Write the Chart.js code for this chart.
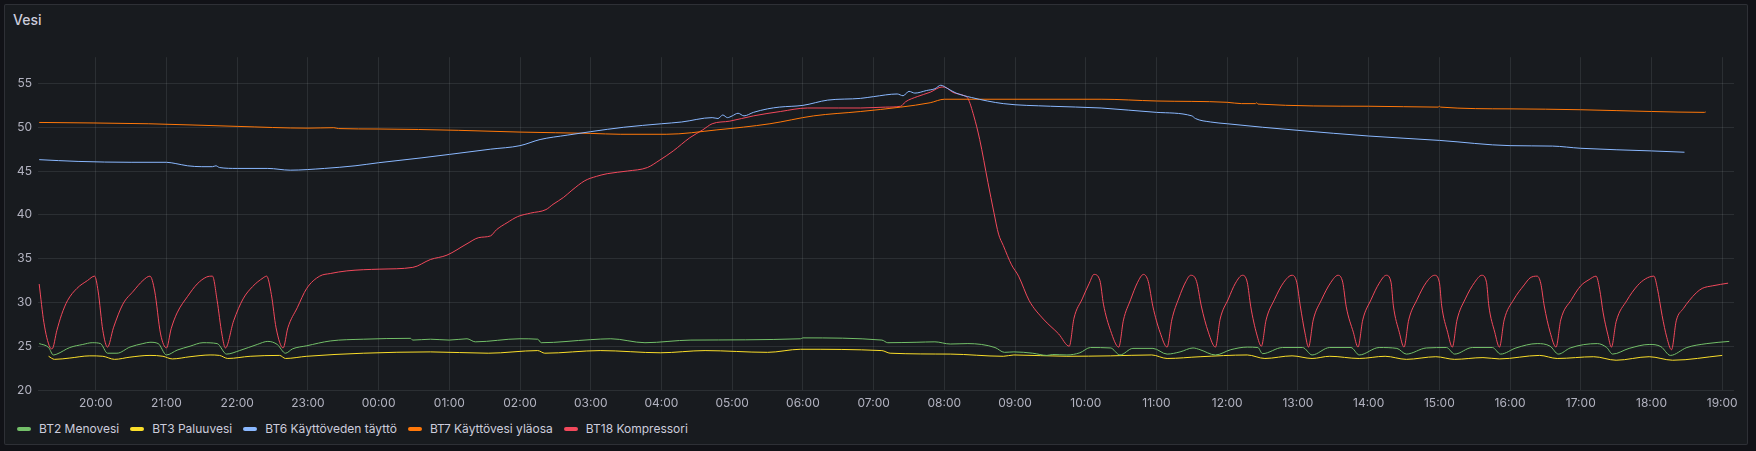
<!DOCTYPE html>
<html>
<head>
<meta charset="utf-8">
<script src="https://cdn.jsdelivr.net/npm/chart.js@4.4.1/dist/chart.umd.min.js"></script>
<style>
  html, body { margin: 0; padding: 0; background: #111217; }
  body { width: 1756px; height: 451px; position: relative; overflow: hidden; font-family: Inter, "Noto Sans", sans-serif; }
  .panel { position: absolute; left: 4px; top: 4px; width: 1744px; height: 441px; background: #181b1f; border: 1px solid rgba(204,204,220,0.12); border-radius: 2px; box-sizing: border-box; }
  .title { position: absolute; left: 13px; top: 11px; color: #ccccdc; font-size: 14px; font-weight: 500; }
  .chart-box { position: absolute; left: 4px; top: 44px; width: 1744px; height: 367px; }
  .legend { position: absolute; left: 17px; top: 421px; display: flex; align-items: center; color: #ccccdc; font-size: 12px; }
  .legend-item { display: flex; align-items: center; margin-right: 11px; }
  .legend-mark { width: 14px; height: 4px; border-radius: 2px; margin-right: 8px; }
</style>
</head>
<body>
<div class="panel"></div>
<div class="title">Vesi</div>
<div class="chart-box"><canvas id="chart"></canvas></div>
<div class="legend" id="legend"></div>
<script>
const seriesNames = ["BT2 Menovesi", "BT3 Paluuvesi", "BT6 Käyttöveden täyttö", "BT7 Käyttövesi yläosa", "BT18 Kompressori"];
const seriesColors = ["#73bf69", "#fade2a", "#8ab8ff", "#ff780a", "#f2495c"];

const xTickLabels = ["20:00", "21:00", "22:00", "23:00", "00:00", "01:00", "02:00", "03:00", "04:00", "05:00", "06:00", "07:00",
  "08:00", "09:00", "10:00", "11:00", "12:00", "13:00", "14:00", "15:00", "16:00", "17:00", "18:00", "19:00"];
const yTickValues = [20, 25, 30, 35, 40, 45, 50, 55];

// BT2 Menovesi
const bt2Times = ["19:12", "19:20", "19:24", "19:27", "19:38", "19:49", "19:57", "20:04", "20:10", "20:18", "20:29", "20:40", "20:46",
  "20:53", "21:00", "21:09", "21:20", "21:31", "21:43", "21:51", "22:02", "22:17", "22:26", "22:34", "22:41", "22:47", "22:59",
  "23:19", "23:47", "00:27", "00:29", "00:44", "01:00", "01:15", "01:22", "02:00", "02:15", "02:18", "03:00", "03:17", "03:46",
  "04:25", "05:58", "06:00", "07:07", "07:12", "07:36", "07:52", "08:05", "08:20", "08:43", "08:51", "08:59", "09:15", "09:27",
  "09:32", "09:44", "09:55", "10:04", "10:21", "10:29", "10:40", "10:57", "11:09", "11:20", "11:31", "11:37", "11:50", "12:03",
  "12:17", "12:26", "12:30", "12:47", "13:04", "13:12", "13:27", "13:45", "13:52", "14:09", "14:24", "14:32", "14:49", "15:06",
  "15:13", "15:28", "15:45", "15:52", "16:05", "16:23", "16:34", "16:41", "16:51", "17:14", "17:22", "17:27", "17:41", "17:58",
  "18:08", "18:16", "18:30", "18:47", "19:06"];
const bt2Values = [25.3, 24.85, 24.0, 24.1, 24.85, 25.2, 25.4, 25.3, 24.2, 24.2, 24.9, 25.3, 25.45,
  25.3, 24.0, 24.55, 25.0, 25.4, 25.3, 24.1, 24.5, 25.2, 25.55, 25.2, 24.2, 24.7, 25.05,
  25.6, 25.8, 25.9, 25.7, 25.8, 25.7, 25.85, 25.5, 25.85, 25.8, 25.4, 25.75, 25.85, 25.4,
  25.7, 25.85, 25.95, 25.7, 25.4, 25.45, 25.5, 25.25, 25.3, 24.85, 24.3, 24.35, 24.2, 23.95,
  24.05, 24.0, 24.25, 24.85, 24.8, 24.0, 24.75, 24.75, 24.1, 24.35, 24.8, 24.6, 24.0, 24.6,
  24.9, 24.85, 24.15, 24.85, 24.85, 24.0, 24.85, 24.85, 24.0, 24.85, 24.75, 24.1, 24.8, 24.85,
  24.1, 24.85, 24.85, 24.1, 24.8, 25.3, 25.0, 24.1, 24.8, 25.3, 24.85, 24.1, 24.75, 25.2,
  24.95, 23.95, 24.85, 25.3, 25.55];

// BT3 Paluuvesi
const bt3Times = ["19:20", "19:25", "19:38", "19:55", "20:06", "20:16", "20:29", "20:46", "20:57", "21:05", "21:20", "21:37", "21:45",
  "21:52", "22:11", "22:36", "22:41", "22:59", "23:47", "00:44", "01:33", "02:15", "02:21", "03:08", "03:59", "04:37", "05:30",
  "05:58", "07:07", "07:14", "08:05", "08:50", "08:59", "09:44", "10:21", "10:56", "11:09", "11:37", "12:17", "12:32", "12:55",
  "13:12", "13:27", "13:52", "14:14", "14:32", "14:57", "15:13", "15:37", "15:51", "16:25", "16:40", "17:11", "17:30", "17:58",
  "18:18", "19:00"];
const bt3Values = [23.85, 23.5, 23.65, 23.9, 23.85, 23.5, 23.75, 23.95, 23.85, 23.55, 23.8, 24.0, 23.95,
  23.6, 23.85, 23.95, 23.6, 23.85, 24.2, 24.35, 24.2, 24.5, 24.2, 24.5, 24.25, 24.5, 24.3,
  24.65, 24.5, 24.2, 24.1, 23.85, 24.0, 23.85, 23.9, 24.0, 23.6, 23.8, 24.0, 23.6, 23.9,
  23.6, 23.85, 23.6, 23.85, 23.5, 23.8, 23.5, 23.7, 23.55, 23.95, 23.6, 23.8, 23.4, 23.8,
  23.4, 23.95];

// BT6 Käyttöveden täyttö
const bt6Times = ["19:12", "19:45", "20:30", "21:00", "21:08", "21:18", "21:30", "21:39", "21:42", "21:45", "22:00", "22:26", "22:45",
  "23:14", "23:40", "00:00", "00:36", "01:00", "01:35", "02:00", "02:17", "02:40", "03:00", "03:28", "04:00", "04:17", "04:43",
  "04:48", "04:52", "04:56", "05:00", "05:05", "05:10", "05:18", "05:30", "05:40", "06:00", "06:21", "06:49", "07:00", "07:20",
  "07:25", "07:30", "07:35", "07:45", "07:52", "07:57", "08:03", "08:10", "08:23", "08:50", "09:30", "10:13", "11:00", "11:30",
  "11:33", "11:46", "12:00", "12:30", "13:00", "14:00", "15:00", "16:00", "16:36", "17:00", "18:00", "18:28"];
const bt6Values = [46.3, 46.1, 46.0, 46.0, 45.85, 45.6, 45.5, 45.5, 45.6, 45.4, 45.3, 45.3, 45.1,
  45.3, 45.6, 45.95, 46.5, 46.9, 47.5, 47.9, 48.6, 49.1, 49.5, 50.0, 50.4, 50.6, 51.1,
  51.0, 51.4, 51.1, 51.3, 51.6, 51.3, 51.7, 52.1, 52.3, 52.5, 53.1, 53.3, 53.5, 53.8,
  53.6, 54.1, 53.9, 54.2, 54.4, 54.8, 54.4, 53.9, 53.4, 52.7, 52.4, 52.2, 51.7, 51.3,
  51.0, 50.6, 50.4, 50.0, 49.65, 49.0, 48.5, 47.9, 47.85, 47.6, 47.3, 47.15];

// BT7 Käyttövesi yläosa
const bt7Times = ["19:12", "20:45", "22:00", "23:00", "23:22", "23:26", "00:00", "01:08", "02:00", "03:00", "03:25", "04:04", "04:47",
  "05:32", "06:09", "06:49", "07:23", "07:48", "08:00", "10:13", "11:00", "12:00", "12:12", "12:24", "12:25", "12:26", "14:00",
  "14:59", "15:00", "15:01", "16:00", "17:00", "18:00", "18:45", "18:46"];
const bt7Values = [50.55, 50.4, 50.1, 49.9, 49.95, 49.85, 49.8, 49.65, 49.45, 49.3, 49.2, 49.2, 49.7,
  50.4, 51.3, 51.8, 52.3, 52.8, 53.2, 53.2, 53.0, 52.85, 52.7, 52.7, 52.8, 52.65, 52.4,
  52.3, 52.4, 52.3, 52.1, 52.0, 51.8, 51.7, 51.75];

// BT18 Kompressori
const bt18Times = ["19:12", "19:16", "19:21", "19:23", "19:27", "19:31", "19:36", "19:44", "19:53", "19:59", "20:02", "20:06", "20:10",
  "20:15", "20:23", "20:32", "20:40", "20:46", "20:50", "20:55", "21:00", "21:04", "21:09", "21:18", "21:26", "21:34", "21:39",
  "21:43", "21:47", "21:50", "21:57", "22:05", "22:13", "22:22", "22:25", "22:29", "22:33", "22:39", "22:43", "22:51", "22:59",
  "23:10", "23:19", "23:33", "00:01", "00:29", "00:44", "00:58", "01:15", "01:25", "01:35", "01:40", "01:49", "01:58", "02:09",
  "02:22", "02:28", "02:37", "02:44", "02:55", "03:05", "03:14", "03:31", "03:48", "03:58", "04:10", "04:24", "04:35", "04:43",
  "04:58", "05:18", "05:41", "06:04", "06:30", "06:49", "07:10", "07:23", "07:27", "07:37", "07:48", "07:58", "08:02", "08:07",
  "08:17", "08:20", "08:25", "08:30", "08:37", "08:42", "08:46", "08:50", "08:57", "09:03", "09:12", "09:24", "09:37", "09:46",
  "09:50", "09:57", "10:03", "10:07", "10:12", "10:15", "10:21", "10:28",
  "10:32", "10:38", "10:44", "10:49", "10:53", "10:57", "11:03", "11:09",
  "11:13", "11:19", "11:25", "11:29", "11:34", "11:38", "11:44", "11:50",
  "11:54", "12:01", "12:07", "12:13", "12:17", "12:20", "12:25", "12:29",
  "12:33", "12:40", "12:48", "12:55", "12:59", "13:02", "13:06", "13:09",
  "13:13", "13:20", "13:28", "13:34", "13:38", "13:41", "13:47", "13:51",
  "13:55", "14:02", "14:09", "14:15", "14:19", "14:21", "14:26", "14:30",
  "14:34", "14:41", "14:49", "14:56", "15:00", "15:02", "15:07", "15:11",
  "15:15", "15:22", "15:30", "15:36", "15:40", "15:42", "15:47", "15:51",
  "15:55", "16:03", "16:12", "16:17", "16:23", "16:26", "16:29", "16:34", "16:39",
  "16:43", "16:52", "17:00", "17:07", "17:13", "17:16", "17:19", "17:23", "17:26",
  "17:30", "17:39", "17:48", "17:55", "18:02", "18:05", "18:09", "18:13", "18:17",
  "18:21", "18:27", "18:32", "18:38", "18:43", "18:52", "19:05"];
const bt18Values = [32.1, 27.7, 24.9, 24.7, 26.8, 28.6, 30.2, 31.6, 32.5, 33.0, 31.3, 26.8, 24.9,
  27.1, 29.8, 31.3, 32.5, 33.0, 31.3, 26.4, 24.8, 27.0, 28.8, 30.7, 32.1, 32.9, 33.0,
  30.2, 26.4, 24.8, 27.9, 30.4, 31.8, 32.8, 33.0, 30.9, 27.1, 24.8, 27.1, 29.4, 31.6,
  33.0, 33.3, 33.6, 33.8, 34.0, 34.9, 35.4, 36.7, 37.4, 37.6, 38.3, 39.1, 39.8, 40.2,
  40.6, 41.2, 42.0, 42.8, 43.9, 44.4, 44.7, 45.0, 45.4, 46.2, 47.3, 48.8, 49.7, 50.4,
  50.7, 51.3, 51.8, 52.2, 52.2, 52.2, 52.3, 52.4, 52.9, 53.5, 54.0, 54.6, 54.5, 54.0,
  53.6, 53.3, 51.3, 48.6, 43.7, 40.3, 37.8, 36.5, 34.3, 33.0, 30.2, 28.1, 26.4, 25.0,
  28.2, 30.4, 32.2, 33.2, 32.5, 29.8, 26.8, 24.9,
  28.0, 30.3, 32.3, 33.2, 32.4, 29.5, 26.6, 24.9,
  28.0, 30.5, 32.4, 33.1, 32.4, 29.6, 26.6, 24.9,
  28.1, 30.4, 32.2, 33.1, 32.3, 29.5, 26.4, 25.0,
  28.0, 30.3, 32.3, 33.1, 32.3, 29.6, 26.5, 24.9,
  28.0, 30.3, 32.3, 33.1, 32.3, 29.5, 26.6, 24.9,
  28.0, 30.3, 32.2, 33.1, 32.3, 29.6, 26.6, 24.9,
  28.0, 30.3, 32.3, 33.1, 32.3, 29.6, 26.6, 24.9,
  28.0, 30.4, 32.3, 33.1, 32.3, 29.6, 26.6, 24.9,
  28.0, 30.3, 32.0, 32.8, 33.0, 32.2, 29.6, 26.6, 24.9,
  28.0, 30.3, 31.9, 32.6, 33.0, 31.5, 28.8, 26.3, 24.9,
  27.8, 30.2, 31.9, 32.7, 33.0, 31.6, 28.5, 26.0, 24.6,
  27.9, 29.3, 30.2, 31.1, 31.6, 31.9, 32.2];

// "HH:MM" -> minutes after 19:00 on the first day; wraps when the clock goes backwards
function toMinutes(times) {
  let prev = -1;
  return times.map((t) => {
    const [h, m] = t.split(":").map(Number);
    let mins = ((h - 19 + 24) % 24) * 60 + m;
    if (mins < prev) mins += 1440;
    prev = mins;
    return mins;
  });
}

function toPoints(times, values) {
  const mins = toMinutes(times);
  return mins.map((x, i) => ({ x, y: values[i] }));
}

const seriesData = [
  toPoints(bt2Times, bt2Values),
  toPoints(bt3Times, bt3Values),
  toPoints(bt6Times, bt6Values),
  toPoints(bt7Times, bt7Values),
  toPoints(bt18Times, bt18Values),
];
const xTickValues = toMinutes(xTickLabels);

const legend = document.getElementById("legend");
seriesNames.forEach((name, i) => {
  const item = document.createElement("div");
  item.className = "legend-item";
  const mark = document.createElement("span");
  mark.className = "legend-mark";
  mark.style.background = seriesColors[i];
  const label = document.createElement("span");
  label.textContent = name;
  item.appendChild(mark);
  item.appendChild(label);
  legend.appendChild(item);
});

const gridColor = "rgba(240, 250, 255, 0.09)";
const tickColor = "rgba(204, 204, 220, 0.85)";

new Chart(document.getElementById("chart").getContext("2d"), {
  type: "line",
  data: {
    datasets: seriesNames.map((name, i) => ({
      label: name,
      data: seriesData[i],
      borderColor: seriesColors[i],
      backgroundColor: seriesColors[i],
      borderWidth: 1,
      pointRadius: 0,
      cubicInterpolationMode: "monotone",
      fill: false,
    })),
  },
  options: {
    responsive: true,
    maintainAspectRatio: false,
    animation: false,
    layout: { padding: { top: 9, right: 14, left: 0, bottom: 0 } },
    plugins: {
      legend: { display: false },
      tooltip: { enabled: false },
    },
    scales: {
      x: {
        type: "linear",
        min: 11,
        max: 1450,
        afterBuildTicks: (scale) => {
          scale.ticks = xTickValues.map((value) => ({ value }));
        },
        afterFit: (scale) => {
          scale.height = 21;
        },
        ticks: {
          autoSkip: false,
          maxRotation: 0,
          padding: 6,
          color: tickColor,
          font: { family: "Inter", size: 12 },
          callback: (value, index) => xTickLabels[index],
        },
        grid: { color: gridColor, drawTicks: false },
        border: { display: false },
      },
      y: {
        type: "linear",
        min: 20,
        max: 58,
        afterBuildTicks: (scale) => {
          scale.ticks = yTickValues.map((value) => ({ value }));
        },
        afterFit: (scale) => {
          scale.width = 34;
        },
        ticks: {
          padding: 6,
          color: tickColor,
          font: { family: "Inter", size: 12 },
          callback: (value) => String(value),
        },
        grid: { color: gridColor, drawTicks: false },
        border: { display: false },
      },
    },
  },
});
</script>
</body>
</html>
